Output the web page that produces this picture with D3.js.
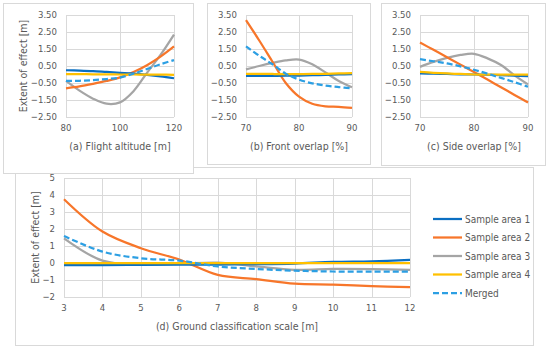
<!DOCTYPE html>
<html>
<head>
<meta charset="utf-8">
<script src="https://cdn.jsdelivr.net/npm/d3@7"></script>
<style>
  body { margin: 0; background: #fff; }
  text { font-family: "Liberation Sans Narrow", "DejaVu Sans Condensed", "Noto Sans", sans-serif; fill: #595959; }
</style>
</head>
<body>
<div id="chart"></div>
<script>
// series names and colours
const SERIES = ["Sample area 1", "Sample area 2", "Sample area 3", "Sample area 4", "Merged"];
const COLORS = ["#0a6fc2", "#f7762a", "#a5a5a5", "#ffc000", "#2c9fe3"];

// (a) flight altitude
const altX = [80, 85, 90, 95, 100, 105, 110, 115, 120];
const altArea1 = [0.25, 0.23, 0.2, 0.15, 0.1, 0.05, -0.02, -0.11, -0.22];
const altArea2 = [-0.81, -0.7, -0.55, -0.38, -0.17, 0.15, 0.55, 1.05, 1.65];
const altArea3 = [-0.38, -0.95, -1.42, -1.72, -1.64, -0.98, 0.1, 1.15, 2.35];
const altArea4 = [0.02, 0.02, 0.01, 0.01, 0, 0, -0.01, -0.01, -0.02];
const altMerged = [-0.38, -0.37, -0.33, -0.27, -0.18, 0.05, 0.32, 0.6, 0.85];

// (b) front overlap
const frontX = [70, 72.5, 75, 77.5, 80, 82.5, 85, 87.5, 90];
const frontArea1 = [-0.08, -0.08, -0.08, -0.07, -0.06, -0.04, -0.02, 0, 0.02];
const frontArea2 = [3.2, 2.0, 0.75, -0.5, -1.3, -1.72, -1.87, -1.9, -1.97];
const frontArea3 = [0.3, 0.5, 0.68, 0.83, 0.88, 0.6, 0.12, -0.38, -0.75];
const frontArea4 = [0.03, 0.03, 0.03, 0.02, 0.02, 0.03, 0.04, 0.06, 0.08];
const frontMerged = [1.65, 1.1, 0.6, 0.05, -0.3, -0.52, -0.65, -0.74, -0.82];

// (c) side overlap
const sideX = [70, 72.5, 75, 77.5, 80, 82.5, 85, 87.5, 90];
const sideArea1 = [0.07, 0.05, 0.03, 0.01, 0, -0.02, -0.04, -0.07, -0.09];
const sideArea2 = [1.88, 1.45, 1.02, 0.58, 0.15, -0.3, -0.75, -1.2, -1.65];
const sideArea3 = [0.45, 0.74, 0.98, 1.15, 1.22, 0.95, 0.56, -0.05, -0.58];
const sideArea4 = [0.15, 0.1, 0.06, 0.03, 0, 0, 0, 0, 0];
const sideMerged = [0.9, 0.78, 0.65, 0.48, 0.28, 0.05, -0.2, -0.45, -0.72];

// (d) ground classification scale
const gcsX = [3, 4, 5, 6, 7, 8, 9, 10, 11, 12];
const gcsArea1 = [-0.12, -0.12, -0.11, -0.1, -0.09, -0.07, -0.03, 0.06, 0.1, 0.18];
const gcsArea2 = [3.75, 1.85, 0.87, 0.2, -0.7, -0.95, -1.22, -1.27, -1.36, -1.42];
const gcsArea3 = [1.45, 0.14, -0.08, -0.05, 0.02, -0.2, -0.4, -0.35, -0.36, -0.41];
const gcsArea4 = [0, 0, 0, 0, 0, 0, 0, 0, 0, 0];
const gcsMerged = [1.59, 0.67, 0.28, 0.14, -0.2, -0.35, -0.45, -0.5, -0.51, -0.51];

// tick values
const smallYTicks = [-2.5, -1.5, -0.5, 0.5, 1.5, 2.5, 3.5];
const bigYTicks = [-2, -1, 0, 1, 2, 3, 4, 5];
const altTicks = [80, 100, 120];
const overlapTicks = [70, 80, 90];
const gcsTicks = [3, 4, 5, 6, 7, 8, 9, 10, 11, 12];

const W = 550, H = 350;
const svg = d3.select("#chart").append("svg")
  .attr("width", W)
  .attr("height", H);

const panels = [
  { box: [3, 3, 190, 170], plot: [66, 15, 174, 117], x: altX, xTicks: altTicks, yTicks: smallYTicks,
    fmt: d3.format(".2f"), title: "(a) Flight altitude [m]", yTitleX: 23,
    series: [altArea1, altArea2, altArea3, altArea4, altMerged] },
  { box: [207, 3, 163, 161], plot: [246, 15, 352, 117], x: frontX, xTicks: overlapTicks, yTicks: smallYTicks,
    fmt: d3.format(".2f"), title: "(b) Front overlap [%]",
    series: [frontArea1, frontArea2, frontArea3, frontArea4, frontMerged] },
  { box: [381, 3, 164, 162], plot: [420, 15, 528, 117], x: sideX, xTicks: overlapTicks, yTicks: smallYTicks,
    fmt: d3.format(".2f"), title: "(c) Side overlap [%]",
    series: [sideArea1, sideArea2, sideArea3, sideArea4, sideMerged] },
  { box: [15, 167, 518, 178], plot: [64, 178, 410, 297], x: gcsX, xTicks: gcsTicks, yTicks: bigYTicks,
    fmt: d3.format("d"), title: "(d) Ground classification scale [m]", yTitleX: 35, legend: true,
    series: [gcsArea1, gcsArea2, gcsArea3, gcsArea4, gcsMerged] }
];

// panel d is drawn first so the small panels sit on top of its border
[panels[3], panels[0], panels[1], panels[2]].forEach(drawPanel);

function drawPanel(p) {
  const g = svg.append("g");
  const [bx, by, bw, bh] = p.box;
  const [x0, y0, x1, y1] = p.plot;

  g.append("rect")
    .attr("x", bx + 0.5).attr("y", by + 0.5)
    .attr("width", bw).attr("height", bh)
    .attr("fill", "#fff")
    .attr("stroke", "#d9d9d9");

  const x = d3.scaleLinear().domain(d3.extent(p.x)).range([x0, x1]);
  const y = d3.scaleLinear().domain(d3.extent(p.yTicks)).range([y1, y0]);

  // gridlines
  g.selectAll("line.hgrid").data(p.yTicks).enter().append("line")
    .attr("x1", x0).attr("x2", x1)
    .attr("y1", d => Math.round(y(d)) + 0.5).attr("y2", d => Math.round(y(d)) + 0.5)
    .attr("stroke", "#d9d9d9");
  g.selectAll("line.vgrid").data(p.xTicks).enter().append("line")
    .attr("x1", d => Math.round(x(d)) + 0.5).attr("x2", d => Math.round(x(d)) + 0.5)
    .attr("y1", y0).attr("y2", y1)
    .attr("stroke", "#d9d9d9");

  // tick labels
  g.selectAll("text.ytick").data(p.yTicks).enter().append("text")
    .attr("x", x0 - 9).attr("y", d => y(d))
    .attr("dy", "0.35em")
    .attr("text-anchor", "end")
    .style("font-size", "9.5px")
    .text(p.fmt);
  g.selectAll("text.xtick").data(p.xTicks).enter().append("text")
    .attr("x", d => x(d)).attr("y", y1 + 11)
    .attr("dy", "0.35em")
    .attr("text-anchor", "middle")
    .style("font-size", "9.5px")
    .text(d => d);

  // axis titles
  g.append("text")
    .attr("x", (x0 + x1) / 2).attr("y", y1 + 29)
    .attr("dy", "0.35em")
    .attr("text-anchor", "middle")
    .style("font-size", "10.5px")
    .text(p.title);
  if (p.yTitleX) {
    g.append("text")
      .attr("transform", `translate(${p.yTitleX},${(y0 + y1) / 2}) rotate(-90)`)
      .attr("dy", "0.35em")
      .attr("text-anchor", "middle")
      .style("font-size", "10.5px")
      .text("Extent of effect [m]");
  }

  const line = d3.line()
    .x((d, i) => x(p.x[i]))
    .y(d => y(d))
    .curve(d3.curveCatmullRom.alpha(0.5));

  // draw order: gray, orange, blue, yellow, then merged on top
  const order = [2, 1, 0, 3, 4];
  order.forEach(k => {
    g.append("path")
      .attr("d", line(p.series[k]))
      .attr("fill", "none")
      .attr("stroke", COLORS[k])
      .attr("stroke-width", 2.25)
      .attr("stroke-dasharray", k === 4 ? "6,3" : null);
  });

  if (p.legend) {
    const lg = g.append("g").attr("transform", "translate(433,219)");
    SERIES.forEach((name, k) => {
      const row = lg.append("g").attr("transform", `translate(0,${k * 18.5})`);
      row.append("line")
        .attr("x1", 0).attr("x2", 29)
        .attr("stroke", COLORS[k])
        .attr("stroke-width", 2.25)
        .attr("stroke-dasharray", k === 4 ? "6,3" : null);
      row.append("text")
        .attr("x", 32).attr("dy", "0.35em")
        .style("font-size", "10px")
        .text(name);
    });
  }
}
</script>
</body>
</html>
